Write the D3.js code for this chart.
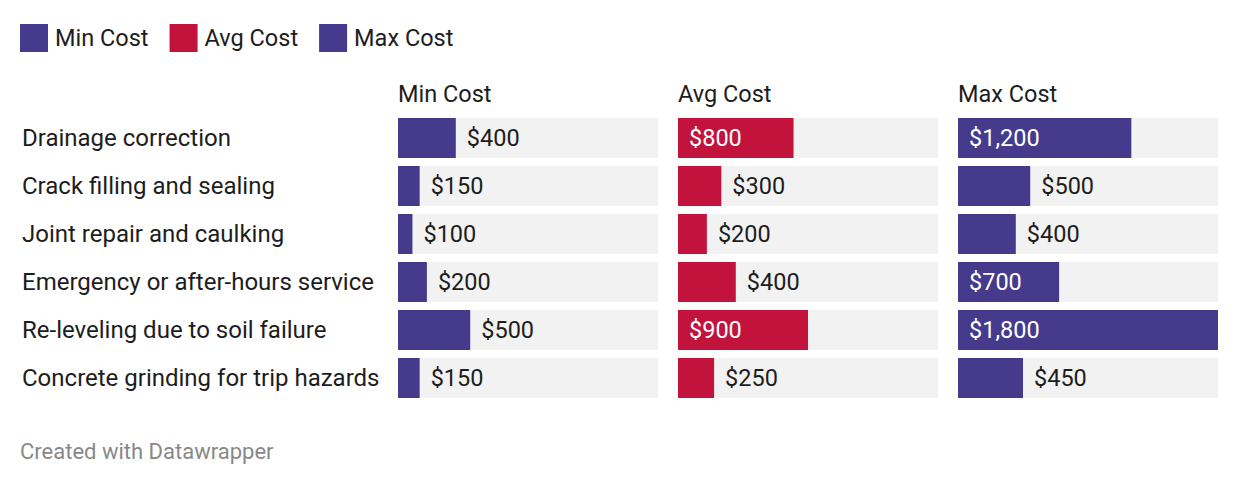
<!DOCTYPE html>
<html>
<head>
<meta charset="utf-8">
<script src="https://cdn.jsdelivr.net/npm/d3@7.9.0/dist/d3.min.js"></script>
<style>
  body { margin: 0; background: #fff; font-family: Roboto, "Noto Sans", sans-serif; }
  svg text { font-family: Roboto, "Noto Sans", sans-serif; }
</style>
</head>
<body>
<svg id="chart" width="1240" height="484"></svg>
<script>
// data
const categories = [
  "Drainage correction",
  "Crack filling and sealing",
  "Joint repair and caulking",
  "Emergency or after-hours service",
  "Re-leveling due to soil failure",
  "Concrete grinding for trip hazards"
];
const seriesNames = ["Min Cost", "Avg Cost", "Max Cost"];
const minCost = [400, 150, 100, 200, 500, 150];
const avgCost = [800, 300, 200, 400, 900, 250];
const maxCost = [1200, 500, 400, 700, 1800, 450];
const seriesColors = ["#463a8c", "#c2133d", "#463a8c"];

const series = [minCost, avgCost, maxCost];

const svg = d3.select('#chart');
const fmt = d3.format("$,");
const FS = 23.5;

// layout
const colStart = 398, colWidth = 260, colGap = 20;
const rowTop = 118, rowStep = 48, barH = 40;

const x = d3.scaleLinear()
  .domain([0, d3.max(series.flat())])
  .range([0, colWidth]);

const y = d3.scaleBand()
  .domain(categories)
  .range([rowTop, rowTop + rowStep * categories.length - (rowStep - barH)])
  .paddingInner((rowStep - barH) / rowStep)
  .paddingOuter(0);

// legend
const legend = svg.append('g');
let lx = 20;
seriesNames.forEach((name, i) => {
  legend.append('rect')
    .attr('x', lx).attr('y', 24)
    .attr('width', 28).attr('height', 28)
    .attr('fill', seriesColors[i]);
  const t = legend.append('text')
    .attr('x', lx + 35).attr('y', 38)
    .attr('dy', '0.35em')
    .attr('font-size', FS)
    .attr('fill', '#1d1d1d')
    .text(name);
  lx += 35 + t.node().getComputedTextLength() + 21;
});

// row labels
svg.append('g').selectAll('text')
  .data(categories)
  .join('text')
  .attr('x', 22)
  .attr('y', d => y(d) + y.bandwidth() / 2)
  .attr('dy', '0.35em')
  .attr('font-size', 24)
  .attr('fill', '#1d1d1d')
  .text(d => d);

// columns
series.forEach((vals, si) => {
  const x0 = colStart + si * (colWidth + colGap);
  const g = svg.append('g').attr('transform', `translate(${x0},0)`);

  g.append('text')
    .attr('x', 0).attr('y', 94)
    .attr('dy', '0.35em')
    .attr('font-size', FS)
    .attr('fill', '#1d1d1d')
    .text(seriesNames[si]);

  const rows = g.selectAll('g.row')
    .data(categories.map((c, i) => ({ c, v: vals[i] })))
    .join('g')
    .attr('class', 'row');

  rows.append('rect')
    .attr('x', 0)
    .attr('y', d => y(d.c))
    .attr('width', colWidth)
    .attr('height', y.bandwidth())
    .attr('fill', '#f2f2f2');

  rows.append('rect')
    .attr('x', 0)
    .attr('y', d => y(d.c))
    .attr('width', d => x(d.v))
    .attr('height', y.bandwidth())
    .attr('fill', seriesColors[si]);

  rows.append('text')
    .attr('x', d => x(d.v) > 90 ? 11 : x(d.v) + 11)
    .attr('y', d => y(d.c) + y.bandwidth() / 2)
    .attr('dy', '0.35em')
    .attr('font-size', FS)
    .attr('fill', d => x(d.v) > 90 ? '#fff' : '#1d1d1d')
    .text(d => fmt(d.v));
});

// footer
svg.append('text')
  .attr('x', 20).attr('y', 451)
  .attr('dy', '0.35em')
  .attr('font-size', 22)
  .attr('fill', '#888')
  .text('Created with Datawrapper');
</script>
</body>
</html>
